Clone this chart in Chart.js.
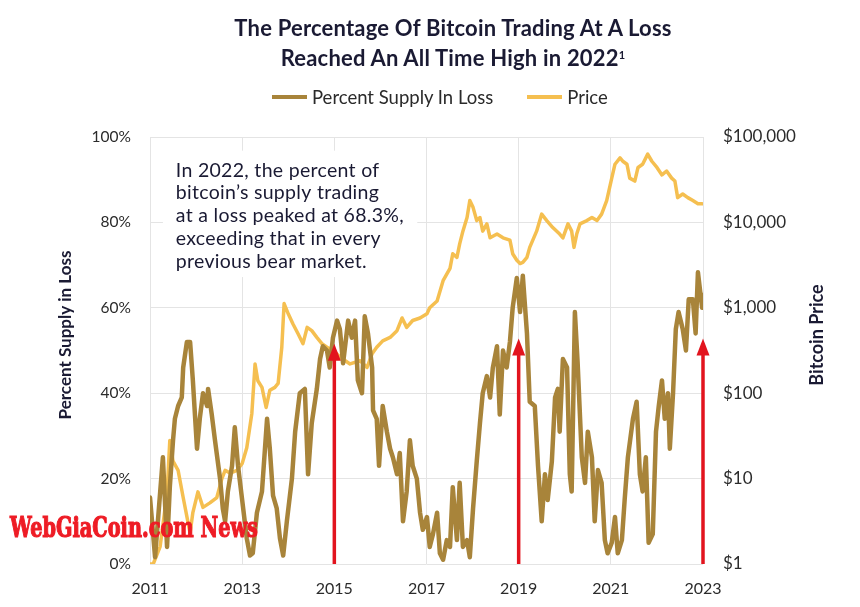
<!DOCTYPE html>
<html><head><meta charset="utf-8">
<script src="https://cdn.jsdelivr.net/npm/chart.js@4.4.1/dist/chart.umd.min.js"></script>
<style>
html,body{margin:0;padding:0;background:#fff;}
#wrap{position:relative;width:860px;height:607px;overflow:hidden;}
canvas{position:absolute;left:0;top:0;}
#title{position:absolute;left:46px;width:814px;top:13px;text-align:center;font:700 22px Lato,sans-serif;color:#1a1a33;line-height:30px;letter-spacing:0.2px;}
#title sup{font-size:11px;vertical-align:top;position:relative;top:-3px;}
#legend{position:absolute;top:86px;left:272px;height:22px;font:400 18.5px Lato,sans-serif;color:#2a2a2a;white-space:nowrap;}
#legend .item{display:inline-flex;align-items:center;height:22px;vertical-align:top;}
#legend .sw{display:inline-block;width:35px;height:4px;margin-right:5px;}
</style>
</head><body>
<div id="wrap">
<canvas id="c" width="860" height="607"></canvas>
<div id="title">The Percentage Of Bitcoin Trading At A Loss<br>Reached An All Time High in 2022<sup>1</sup></div>
<div id="legend"></div>
</div>
<script>
// ---- data ----
const lossYears = [
2011.00,2011.11,2011.28,2011.37,2011.43,2011.50,2011.54,2011.61,2011.69,2011.72,
2011.80,2011.87,2011.93,2012.02,2012.08,2012.15,2012.24,2012.26,2012.34,2012.41,
2012.52,2012.58,2012.63,2012.69,2012.78,2012.84,2012.91,2013.00,2013.10,2013.17,
2013.23,2013.32,2013.43,2013.54,2013.60,2013.67,2013.75,2013.82,2013.89,2013.97,
2014.08,2014.15,2014.25,2014.36,2014.43,2014.51,2014.62,2014.69,2014.75,2014.84,
2014.90,2014.97,2015.06,2015.12,2015.19,2015.30,2015.38,2015.45,2015.51,2015.60,
2015.66,2015.73,2015.82,2015.84,2015.92,2015.97,2016.05,2016.14,2016.21,2016.27,
2016.36,2016.42,2016.49,2016.57,2016.64,2016.70,2016.79,2016.86,2016.92,2017.01,
2017.07,2017.14,2017.23,2017.29,2017.36,2017.44,2017.51,2017.57,2017.66,2017.72,
2017.79,2017.88,2017.94,2018.01,2018.09,2018.16,2018.22,2018.31,2018.38,2018.44,
2018.53,2018.59,2018.66,2018.74,2018.81,2018.87,2018.96,2019.03,2019.09,2019.18,
2019.24,2019.35,2019.42,2019.50,2019.57,2019.63,2019.72,2019.79,2019.85,2019.89,
2019.96,2020.05,2020.11,2020.15,2020.22,2020.28,2020.37,2020.44,2020.50,2020.59,
2020.65,2020.72,2020.80,2020.87,2020.93,2021.02,2021.09,2021.15,2021.24,2021.30,
2021.37,2021.48,2021.56,2021.63,2021.69,2021.76,2021.82,2021.91,2021.98,2022.04,
2022.11,2022.17,2022.24,2022.28,2022.35,2022.41,2022.47,2022.56,2022.63,2022.69,
2022.78,2022.84,2022.89,2022.98,2023.00];
const lossPct = [
15.6,1.6,25,4,18,29,34,37,39,46,
52,52,43,27,34,40,37,41,35,29,
20,13,10,17,23,32,23,15,6,2,
2.5,12,17,34,27,16,13,6,2,10,
20,31,40,41,21,33,41,48,51,50,
46,53,57,55,47,57,53,57,43,40,
58,54,46,36,34,23,37,31,27,25,
21,26,10,17,29,23,20,12,8,11,
4,7,12,2.5,1,5.6,4,18,5.6,19,
4,5.6,1.6,13,24,33,40,44,39,46,
51,35,50,46,52,60,67,59,67.5,54,
38,37,23,10,21,15,24,39,41,31,
48,46,21,17,59,47,25,19,31,25,
10,22,19,5.6,2.5,5,11,2.5,5.6,15,
25,34,38,21,17,25,5,7,31,37,
43,34,40,27,40,55,59,55,50,62,
62,54,68.3,60,63];
const priceYears = [
2011.00,2011.07,2011.22,2011.37,2011.43,2011.50,2011.61,2011.72,2011.87,2011.93,
2012.04,2012.15,2012.30,2012.45,2012.56,2012.63,2012.74,2012.89,2013.00,2013.10,
2013.21,2013.28,2013.34,2013.43,2013.52,2013.60,2013.71,2013.78,2013.86,2013.91,
2014.00,2014.10,2014.21,2014.32,2014.41,2014.51,2014.62,2014.73,2014.84,2014.97,
2015.12,2015.34,2015.56,2015.71,2015.82,2015.92,2016.05,2016.21,2016.36,2016.47,
2016.57,2016.70,2016.86,2017.01,2017.07,2017.23,2017.36,2017.51,2017.57,2017.66,
2017.72,2017.79,2017.88,2017.94,2018.01,2018.09,2018.16,2018.22,2018.31,2018.38,
2018.53,2018.66,2018.81,2018.87,2018.96,2019.03,2019.09,2019.18,2019.24,2019.39,
2019.50,2019.61,2019.74,2019.89,2019.96,2020.07,2020.15,2020.20,2020.26,2020.33,
2020.48,2020.59,2020.70,2020.80,2020.91,2021.02,2021.09,2021.20,2021.26,2021.35,
2021.41,2021.52,2021.59,2021.69,2021.80,2021.89,2022.00,2022.11,2022.21,2022.32,
2022.39,2022.45,2022.56,2022.67,2022.78,2022.89,2022.98];
const priceUsd = [
1,1,1.6,6.8,28,16,12.5,6,2.3,4,
7,4.6,5.2,6,10,12.5,11.6,12.5,15,23,
58,220,140,117,68,108,117,130,345,1120,
850,650,500,380,590,540,450,380,345,320,
265,220,240,200,290,345,410,450,540,760,
590,710,760,850,1000,1200,2080,2900,4300,3900,
5600,7900,11400,18000,15000,10500,11400,7900,9600,6600,
7300,6600,6200,4300,3600,3300,3400,3900,5100,7900,
12500,10500,8700,7300,6600,9600,7900,5100,7300,9600,
10500,11400,10500,12500,18000,33000,48000,57000,52000,48000,
33000,30500,44000,48000,63000,52000,44000,36000,40000,33000,
30500,19500,21500,19500,18000,16500,16500];
const yearTicks = [2011, 2013, 2015, 2017, 2019, 2021, 2023];
const pctTicks = [0, 20, 40, 60, 80, 100];
const priceTicks = [1, 10, 100, 1000, 10000, 100000];
const arrowYears = [2015, 2019, 2023];
const arrowTipPct = [51.6, 52.8, 52.8];
const noteLines = ["In 2022, the percent of", "bitcoin\u2019s supply trading", "at a loss peaked at 68.3%,", "exceeding that in every", "previous bear market."];

// ---- styles ----
const C_LOSS = '#A8843A', C_PRICE = '#F5BF50', C_RED = '#E2141E', C_GRID = '#E4E4E4', C_TXT = '#2b2b2b', C_NAVY = '#1a1a33';
const tickFont = {family: 'Lato, sans-serif', size: 16};

const extras = {
  id: 'extras',
  beforeDatasetsDraw(chart) {
    const {ctx, scales: {x, y}} = chart;
    const bx0 = x.getPixelForValue(2011.28), bx1 = x.getPixelForValue(2016.8);
    const by0 = y.getPixelForValue(96.8), by1 = y.getPixelForValue(67.2);
    ctx.save();
    ctx.fillStyle = '#fff';
    ctx.fillRect(bx0, by0, bx1 - bx0, by1 - by0);
    ctx.font = '400 19.5px Lato, sans-serif';
    ctx.letterSpacing = '0.3px';
    ctx.fillStyle = C_NAVY;
    ctx.textBaseline = 'middle';
    const tx = x.getPixelForValue(2011.56);
    const ty = y.getPixelForValue(92.2);
    noteLines.forEach((t, i) => ctx.fillText(t, tx, ty + i * 22.8));
    ctx.restore();
  },
  afterDatasetsDraw(chart) {
    const {ctx, scales: {x, y}} = chart;
    ctx.save();
    ctx.strokeStyle = C_RED; ctx.fillStyle = C_RED; ctx.lineWidth = 3.5;
    arrowYears.forEach((yr, i) => {
      const px = x.getPixelForValue(yr);
      const y0 = y.getPixelForValue(0);
      const yt = y.getPixelForValue(arrowTipPct[i]);
      ctx.beginPath(); ctx.moveTo(px, y0); ctx.lineTo(px, yt + 12); ctx.stroke();
      ctx.beginPath(); ctx.moveTo(px, yt); ctx.lineTo(px - 6.5, yt + 17); ctx.lineTo(px + 6.5, yt + 17); ctx.closePath(); ctx.fill();
    });
    ctx.restore();
  },
  afterDraw(chart) {
    const {ctx} = chart;
    ctx.save();
    ctx.fillStyle = C_NAVY;
    ctx.font = '700 17px Lato, sans-serif';
    ctx.textAlign = 'center'; ctx.textBaseline = 'middle';
    ctx.translate(66, 335); ctx.rotate(-Math.PI / 2); ctx.fillText('Percent Supply in Loss', 0, 0);
    ctx.setTransform(1, 0, 0, 1, 0, 0);
    ctx.font = '700 18px Lato, sans-serif';
    ctx.translate(817, 335); ctx.rotate(-Math.PI / 2); ctx.fillText('Bitcoin Price', 0, 0);
    ctx.setTransform(1, 0, 0, 1, 0, 0);
    // watermark
    const wm = 'WebGiaCoin.com News';
    ctx.font = '900 27px "DejaVu Serif", serif';
    const w = ctx.measureText(wm).width;
    ctx.fillStyle = '#EE1C25'; ctx.strokeStyle = '#EE1C25'; ctx.lineWidth = 1.2;
    ctx.textAlign = 'left'; ctx.textBaseline = 'alphabetic';
    ctx.translate(10, 537); ctx.scale(248 / w, 1);
    ctx.fillText(wm, 0, 0);
    ctx.strokeText(wm, 0, 0);
    ctx.restore();
  }
};

const chart = new Chart(document.getElementById('c'), {
  type: 'line',
  data: {
    datasets: [
      {label: 'Percent Supply In Loss', yAxisID: 'y', borderColor: C_LOSS, backgroundColor: C_LOSS, borderWidth: 4.5,
       data: lossYears.map((v, i) => ({x: v, y: lossPct[i]}))},
      {label: 'Price', yAxisID: 'y1', borderColor: C_PRICE, backgroundColor: C_PRICE, borderWidth: 3.5,
       data: priceYears.map((v, i) => ({x: v, y: priceUsd[i]}))}
    ]
  },
  options: {
    responsive: false, animation: false, events: [],
    layout: {padding: {left: 16, right: 0, top: 137, bottom: 0}},
    elements: {point: {radius: 0}, line: {tension: 0, borderJoinStyle: 'round', borderCapStyle: 'round'}},
    plugins: {legend: {display: false}, title: {display: false}, tooltip: {enabled: false}},
    scales: {
      x: {type: 'linear', min: 2011, max: 2023,
          afterBuildTicks: s => { s.ticks = yearTicks.map(v => ({value: v})); },
          afterFit: s => { s.height = 43; },
          ticks: {callback: v => String(v), font: tickFont, color: C_TXT, padding: 15, maxRotation: 0, autoSkip: false},
          grid: {color: C_GRID, drawTicks: false, lineWidth: 1}, border: {display: false}},
      y: {position: 'left', min: 0, max: 100,
          afterBuildTicks: s => { s.ticks = pctTicks.map(v => ({value: v})); },
          afterFit: s => { s.width = 134; },
          ticks: {callback: v => v + '%', font: {family: 'Lato, sans-serif', size: 15.5}, color: C_TXT, padding: 19},
          grid: {color: C_GRID, drawTicks: false}, border: {display: false}},
      y1: {position: 'right', type: 'logarithmic', min: 1, max: 100000,
          afterBuildTicks: s => { s.ticks = priceTicks.map(v => ({value: v})); },
          afterFit: s => { s.width = 157; },
          ticks: {callback: v => '$' + Number(v).toLocaleString('en-US'), font: {family: 'Lato, sans-serif', size: 17}, color: C_TXT, padding: 12, autoSkip: false},
          grid: {display: false}, border: {display: false}}
    }
  },
  plugins: [extras]
});

const lg = document.getElementById('legend');
chart.data.datasets.forEach((ds, i) => {
  const it = document.createElement('span'); it.className = 'item';
  if (i > 0) it.style.marginLeft = '34px';
  const sw = document.createElement('span'); sw.className = 'sw'; sw.style.background = ds.borderColor;
  const tx = document.createElement('span'); tx.textContent = ds.label;
  it.appendChild(sw); it.appendChild(tx); lg.appendChild(it);
});
</script>
</body></html>
